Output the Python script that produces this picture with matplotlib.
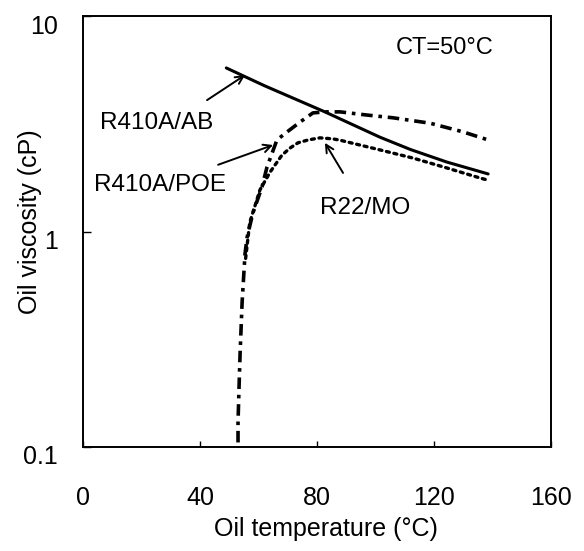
import matplotlib
matplotlib.use("Agg")
import matplotlib.pyplot as plt
import matplotlib.transforms as mtransforms

plt.rcParams['font.family'] = ['Liberation Sans', 'DejaVu Sans']

# ---- data ----
ab_T = [49, 62, 82.7, 101.5, 112, 124.4, 138.5]
ab_v = [5.74, 4.75, 3.59, 2.74, 2.40, 2.10, 1.85]

poe_T = [53.0, 53.0, 53.3, 53.7, 54.4, 55.4, 56.1, 58.1, 61.2, 62.9, 66.3, 69.8,
         74.2, 78.6, 82.7, 87.9, 97.1, 106.0, 118.7, 129.9, 138.5]
poe_v = [0.105, 0.13, 0.18, 0.27, 0.47, 0.79, 0.94, 1.22, 1.61, 1.99, 2.66, 2.90,
         3.22, 3.55, 3.59, 3.59, 3.47, 3.37, 3.18, 2.90, 2.66]

mo_T = [55.6, 57.0, 60.5, 64.0, 68.0, 70.8, 73.5, 77.0, 81.0, 85.5, 88.0,
        101.6, 112.9, 124.5, 135.8, 138.5]
mo_v = [0.75, 1.10, 1.56, 1.89, 2.26, 2.44, 2.58, 2.66, 2.72, 2.69, 2.65,
        2.39, 2.19, 1.97, 1.77, 1.73]

xticks = [0, 40, 80, 120, 160]
xtick_labels = ['0', '40', '80', '120', '160']
yticks = [0.1, 1, 10]
ytick_labels = ['0.1', '1', '10']

labels = ['R410A/AB', 'R410A/POE', 'R22/MO']
label_pos = [(25.0, 3.18), (26.3, 1.64), (96.4, 1.29)]
arrow_tail = [(42.4, 4.07), (46.2, 2.04), (88.9, 1.87)]
arrow_tip = [(55.4, 5.32), (65.0, 2.52), (82.7, 2.58)]
ct_text = 'CT=50°C'
ct_pos = (123.8, 7.10)

# ---- figure ----
fig = plt.figure(figsize=(5.84, 5.51), dpi=100)
ax = fig.add_axes([83/584, 1 - 447/551, (551 - 83)/584, (447 - 16)/551])

ax.plot(ab_T, ab_v, color='black', lw=2.2, solid_capstyle='round')
ax.plot(poe_T, poe_v, color='black', lw=2.6, linestyle=(0, (3.2, 1.6, 1.0, 1.6)))
ax.plot(mo_T, mo_v, color='black', lw=2.4, linestyle=(0, (0.9, 1.4)),
        dash_capstyle='round')

ax.set_yscale('log')
ax.set_xlim(0, 160)
ax.set_ylim(0.1, 10)
ax.set_xticks(xticks, labels=xtick_labels)
ax.set_yticks(yticks, labels=ytick_labels)
ax.minorticks_off()

ax.tick_params(axis='x', direction='in', length=4, width=1, pad=28, labelsize=18)
ax.tick_params(axis='y', direction='in', length=6, width=1, pad=18, labelsize=18)
for sp in ax.spines.values():
    sp.set_linewidth(1.4)

offset = mtransforms.ScaledTranslation(0, -8/100, fig.dpi_scale_trans)
for lab in ax.get_yticklabels():
    lab.set_transform(lab.get_transform() + offset)

ax.set_xlabel('Oil temperature (°C)', fontsize=18)
ax.set_ylabel('Oil viscosity (cP)', fontsize=18)
ax.xaxis.label.set_va('center')
ax.yaxis.label.set_va('center')
ax.xaxis.set_label_coords((326 - 83)/468, (447 - 529)/431)
ax.yaxis.set_label_coords((30 - 83)/468, (447 - 222)/431)

for name, pos, tail, tip in zip(labels, label_pos, arrow_tail, arrow_tip):
    ax.text(pos[0], pos[1], name, fontsize=17.5, ha='center', va='center')
    ax.annotate('', xy=tip, xytext=tail,
                arrowprops=dict(arrowstyle='->', color='black', lw=1.4,
                                mutation_scale=14, shrinkA=0, shrinkB=0))

ax.text(ct_pos[0], ct_pos[1], ct_text, fontsize=17, ha='center', va='center')

fig.savefig('out.png', dpi=100)
